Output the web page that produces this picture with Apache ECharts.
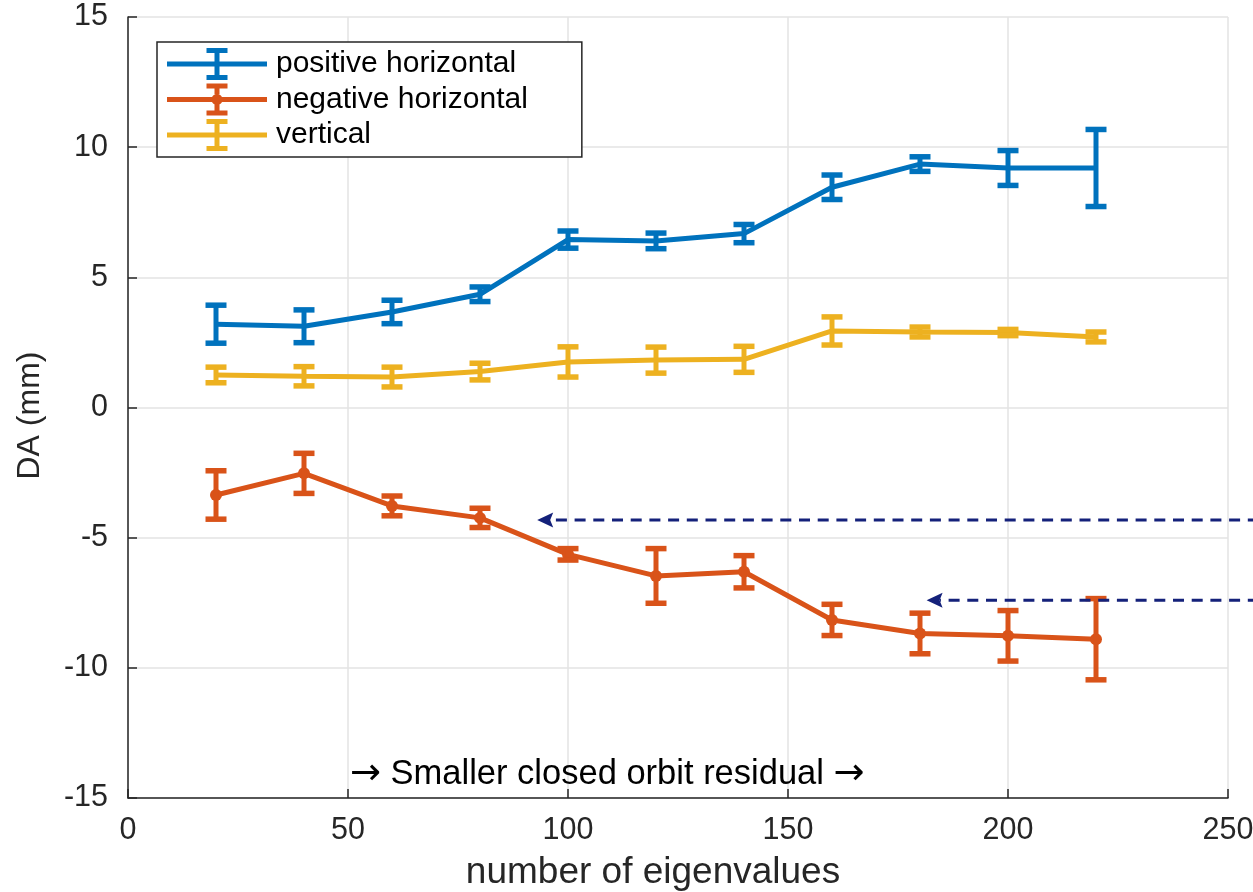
<!DOCTYPE html>
<html>
<head>
<meta charset="utf-8">
<script src="https://cdn.jsdelivr.net/npm/echarts@6/dist/echarts.min.js"></script>
<style>
html,body{margin:0;padding:0;background:#fff;}
#chart{width:1253px;height:892px;}
</style>
</head>
<body>
<div id="chart"></div>
<script>
// ---- data ----
const eigenvalues = [20, 40, 60, 80, 100, 120, 140, 160, 180, 200, 220];
const posH      = [3.20, 3.12, 3.67, 4.35, 6.45, 6.40, 6.68, 8.46, 9.35, 9.20, 9.20];
const posHErr   = [0.73, 0.63, 0.45, 0.28, 0.33, 0.30, 0.35, 0.47, 0.28, 0.67, 1.48];
const negH      = [-3.36, -2.53, -3.78, -4.24, -5.64, -6.47, -6.31, -8.16, -8.68, -8.77, -8.90];
const negHErr   = [0.93, 0.77, 0.38, 0.37, 0.22, 1.05, 0.62, 0.60, 0.78, 0.97, 1.56];
const vert      = [1.25, 1.20, 1.17, 1.38, 1.75, 1.82, 1.85, 2.94, 2.90, 2.88, 2.71];
const vertErr   = [0.30, 0.37, 0.38, 0.32, 0.58, 0.50, 0.50, 0.54, 0.19, 0.12, 0.19];
const seriesNames = ['positive horizontal', 'negative horizontal', 'vertical'];
const xTicks = [0, 50, 100, 150, 200, 250];
const yTicks = [-15, -10, -5, 0, 5, 10, 15];
// dashed arrows: y value, start x (right end), tip x (left end)
const arrowY     = [-4.32, -7.40];
const arrowStart = [257, 257];
const arrowTip   = [93, 181.5];
const annotationText = 'Smaller closed orbit residual';

const colors = ['#0072BD', '#D95319', '#EDB120'];
const arrowColor = '#14217a';
const textColor = '#262626';
const FONT = '"Liberation Sans", Arial, Helvetica, sans-serif';

function pairs(xs, ys) { return xs.map((x, i) => [x, ys[i]]); }
function errData(xs, ys, es) { return xs.map((x, i) => [x, ys[i] - es[i], ys[i] + es[i]]); }

function errRender(color) {
  return function (params, api) {
    const x = api.value(0);
    const lo = api.coord([x, api.value(1)]);
    const hi = api.coord([x, api.value(2)]);
    const cw = 10.5;
    const st = { stroke: color, lineWidth: 5 };
    const cst = { stroke: color, lineWidth: 5.5 };
    return {
      type: 'group',
      children: [
        { type: 'line', shape: { x1: lo[0], y1: lo[1], x2: hi[0], y2: hi[1] }, style: st },
        { type: 'line', shape: { x1: lo[0] - cw, y1: lo[1], x2: lo[0] + cw, y2: lo[1] }, style: cst },
        { type: 'line', shape: { x1: hi[0] - cw, y1: hi[1], x2: hi[0] + cw, y2: hi[1] }, style: cst }
      ]
    };
  };
}

function arrowRender(params, api) {
  const y = api.value(0);
  const s = api.coord([api.value(1), y]);
  const t = api.coord([api.value(2), y]);
  const hl = 16, hw = 7.5, notch = 3;
  return {
    type: 'group',
    children: [
      { type: 'line', shape: { x1: s[0], y1: s[1], x2: t[0] + hl - notch, y2: t[1] },
        style: { stroke: arrowColor, lineWidth: 3, lineDash: [11, 7.7] } },
      { type: 'polygon', shape: { points: [[t[0], t[1]], [t[0] + hl, t[1] - hw], [t[0] + hl - notch, t[1]], [t[0] + hl, t[1] + hw]] },
        style: { fill: arrowColor } }
    ]
  };
}

const series = [];
const vals = [posH, negH, vert];
const errs = [posHErr, negHErr, vertErr];
for (let k = 0; k < 3; k++) {
  series.push({
    name: seriesNames[k],
    type: 'line',
    data: pairs(eigenvalues, vals[k]),
    symbol: k === 1 ? 'circle' : 'none',
    symbolSize: 12,
    showSymbol: k === 1,
    itemStyle: { color: colors[k], borderWidth: 0 },
    lineStyle: { color: colors[k], width: 5 },
    z: 3,
    silent: true,
    animation: false
  });
  series.push({
    name: seriesNames[k],
    type: 'custom',
    renderItem: errRender(colors[k]),
    data: errData(eigenvalues, vals[k], errs[k]),
    encode: { x: 0, y: [1, 2] },
    z: 4,
    silent: true,
    animation: false
  });
}
series.push({
  type: 'custom',
  renderItem: arrowRender,
  data: arrowY.map((y, i) => [y, arrowStart[i], arrowTip[i]]),
  encode: { y: 0, x: [1, 2] },
  clip: false,
  z: 5,
  silent: true,
  animation: false
});

const iconBars = 'M0 13.5 H100 V18.5 H0 Z M47.5 2 H52.5 V30 H47.5 Z M39.5 0 H60.5 V5 H39.5 Z M39.5 27 H60.5 V32 H39.5 Z';
const iconDot = 'M0 13.5 H45 V18.5 H0 Z M55 13.5 H100 V18.5 H55 Z M47.5 2 H52.5 V10.8 H47.5 Z M47.5 21.2 H52.5 V30 H47.5 Z M39.5 0 H60.5 V5 H39.5 Z M39.5 27 H60.5 V32 H39.5 Z M44.5 16 A5.5 5.5 0 1 1 55.5 16 A5.5 5.5 0 1 1 44.5 16 Z';

const chart = echarts.init(document.getElementById('chart'), null, { renderer: 'canvas' });
chart.setOption({
  backgroundColor: '#ffffff',
  animation: false,
  textStyle: { fontFamily: FONT },
  title: {
    text: '{a|\u2192} ' + annotationText + ' {a|\u2192}',
    left: 350,
    top: 754,
    padding: 0,
    textStyle: {
      fontFamily: FONT, fontSize: 34.5, fontWeight: 'normal', color: '#000000', lineHeight: 40,
      rich: { a: { fontFamily: '"DejaVu Sans", sans-serif', fontSize: 37, color: '#000000', lineHeight: 40 } }
    }
  },
  grid: { left: 128, right: 25, top: 17, bottom: 94, containLabel: false, outerBoundsMode: 'none' },
  legend: {
    orient: 'vertical',
    left: 157,
    top: 42,
    padding: [6, 54, 6, 10],
    itemGap: 3.5,
    itemWidth: 100,
    itemHeight: 32,
    borderColor: textColor,
    borderWidth: 1.5,
    backgroundColor: '#ffffff',
    selectedMode: false,
    itemStyle: { borderWidth: 0 },
    textStyle: { fontFamily: FONT, fontSize: 30, color: '#000000', padding: [0, 0, 0, 4] },
    data: [
      { name: seriesNames[0], icon: 'path://' + iconBars },
      { name: seriesNames[1], icon: 'path://' + iconDot },
      { name: seriesNames[2], icon: 'path://' + iconBars }
    ]
  },
  xAxis: {
    type: 'value',
    min: xTicks[0],
    max: xTicks[xTicks.length - 1],
    interval: 50,
    name: 'number of eigenvalues',
    nameLocation: 'middle',
    nameGap: 56,
    nameTextStyle: { fontFamily: FONT, fontSize: 37, color: textColor, padding: [0, 50, 0, 0] },
    axisLine: { show: true, onZero: false, lineStyle: { color: textColor, width: 1.5 } },
    axisTick: { show: true, inside: true, length: 9, lineStyle: { color: textColor, width: 1.5 } },
    axisLabel: { fontFamily: FONT, fontSize: 30.5, color: textColor, margin: 17 },
    splitLine: { show: true, lineStyle: { color: '#e3e3e3', width: 1.5 } }
  },
  yAxis: {
    type: 'value',
    min: yTicks[0],
    max: yTicks[yTicks.length - 1],
    interval: 5,
    name: 'DA (mm)',
    nameLocation: 'middle',
    nameRotate: 90,
    nameGap: 82,
    nameTextStyle: { fontFamily: FONT, fontSize: 32, color: textColor, padding: [0, 16, 0, 0] },
    axisLine: { show: true, onZero: false, lineStyle: { color: textColor, width: 1.5 } },
    axisTick: { show: true, inside: true, length: 9, lineStyle: { color: textColor, width: 1.5 } },
    axisLabel: { fontFamily: FONT, fontSize: 30.5, color: textColor, margin: 20 },
    splitLine: { show: true, lineStyle: { color: '#e3e3e3', width: 1.5 } }
  },
  series: series
});
</script>
</body>
</html>
